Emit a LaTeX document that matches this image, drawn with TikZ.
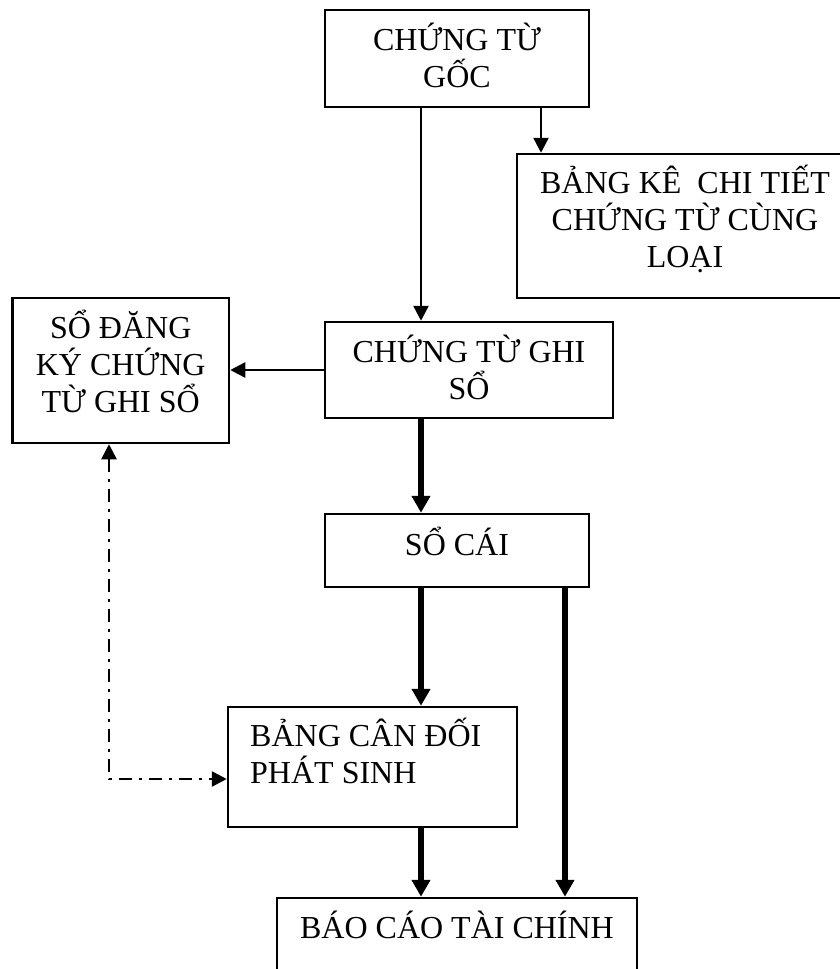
\documentclass[tikz,border=0pt]{standalone}
\usepackage{fontspec}
\setmainfont{Liberation Serif}
\usetikzlibrary{arrows.meta}
\newcommand{\hstrutA}{\rule{0pt}{32pt}}
\tikzset{
  boxnode/.style={draw, line width=2.5pt, rectangle, inner sep=0pt},
  txt/.style={inner sep=0pt, font=\fontsize{32}{37}\selectfont, align=center},
  thinarrow/.style={draw, line width=2.5pt, -{Triangle[length=15pt,width=15pt]}},
  thickarrow/.style={draw, line width=6.5pt, -{Triangle[length=17pt,width=18pt]}},
  dasharrow/.style={draw, line width=2.7pt, dash pattern=on 13pt off 7pt on 3pt off 7pt,
    {Triangle[length=15pt,width=15pt]}-{Triangle[length=15pt,width=15pt]}}
}
\begin{document}
\begin{tikzpicture}[x=1pt, y=-1pt]
\useasboundingbox (0,0) rectangle (840,969);
\clip (0,0) rectangle (840,969);
\fill[white] (0,0) rectangle (840,969);

% boxes
\node[boxnode, minimum width=264pt, minimum height=97pt] (goc) at (457,58.5) {};
\node[boxnode, minimum width=336pt, minimum height=144pt] (bangke) at (685,226) {};
\node[boxnode, minimum width=216.5pt, minimum height=145pt] (sodk) at (120.75,370.5) {};
\node[boxnode, minimum width=288pt, minimum height=96pt] (ctgs) at (469,370) {};
\node[boxnode, minimum width=264pt, minimum height=73pt] (socai) at (457,550.5) {};
\node[boxnode, minimum width=289pt, minimum height=120pt] (cdps) at (372.5,767) {};
\node[boxnode, minimum width=360pt, minimum height=112pt] (bctc) at (457,954) {};

% texts
\node[txt, anchor=north] (tgoc) at (457,18) {\hstrutA CHỨNG TỪ\\GỐC};
\node[txt, anchor=north] (tbangke) at (685,161) {\hstrutA BẢNG KÊ\ \ CHI TIẾT\\CHỨNG TỪ CÙNG\\LOẠI};
\node[txt, anchor=north] (tsodk) at (120.75,306) {\hstrutA SỔ ĐĂNG\\KÝ CHỨNG\\TỪ GHI SỔ};
\node[txt, anchor=north] (tctgs) at (469,330) {\hstrutA CHỨNG TỪ GHI\\SỔ};
\node[txt, anchor=base] (tsocai) at (457,555) {SỔ CÁI};
\node[txt, anchor=north west, align=left] (tcdps) at (250,714) {\hstrutA BẢNG CÂN ĐỐI\\PHÁT SINH};
\node[txt, anchor=base] (tbctc) at (457,938) {BÁO CÁO TÀI CHÍNH};

% guide coordinates
\coordinate (xa) at (421,0);
\coordinate (xb) at (541,0);
\coordinate (xc) at (565,0);
\coordinate (xd) at (109,0);
\coordinate (yd) at (0,779);

% connectors
\draw[thinarrow] (goc.south -| xa) -- (ctgs.north -| xa);
\draw[thinarrow] (goc.south -| xb) -- (bangke.north -| xb);
\draw[thinarrow] (ctgs.west) -- (ctgs.west -| sodk.east);
\draw[thickarrow] (ctgs.south -| xa) -- (socai.north -| xa);
\draw[thickarrow] (socai.south -| xa) -- (cdps.north -| xa);
\draw[thickarrow] (cdps.south -| xa) -- (bctc.north -| xa);
\draw[thickarrow] (socai.south -| xc) -- (bctc.north -| xc);
\draw[dasharrow] (sodk.south -| xd) -- (xd |- yd) -- (cdps.west |- yd);
\end{tikzpicture}
\end{document}
